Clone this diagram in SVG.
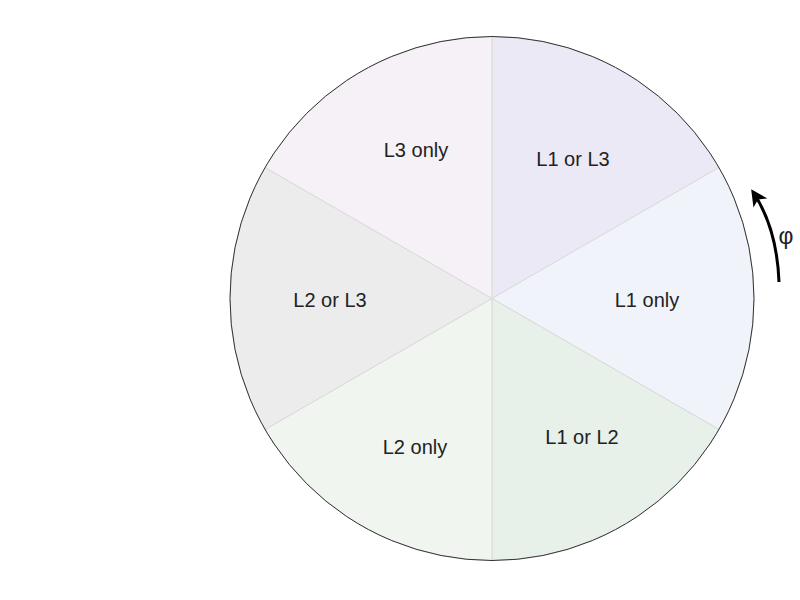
<svg xmlns="http://www.w3.org/2000/svg" width="800" height="600" viewBox="0 0 800 600">
<style>
.sec{stroke:#dadada;stroke-width:1}
.lbl{font-family:"Liberation Sans",Arial,sans-serif;font-size:20px;fill:#222;text-anchor:middle}
</style>
<defs>
<marker id="ah" viewBox="0 0 10 10" refX="8" refY="5" markerWidth="5.5" markerHeight="5.5" orient="auto" markerUnits="strokeWidth">
<path d="M0,0 L10,5 L0,10 L2.5,5 z" fill="#000"/>
</marker>
</defs>
<rect width="800" height="600" fill="#fff"/>
<g id="s-l1l3"><path class="sec" d="M492,298.5 L492,36.5 A262,262 0 0 1 718.9,167.5 Z" fill="#ebe9f5"/><text class="lbl" x="573" y="166">L1 or L3</text></g>
<g id="s-l1"><path class="sec" d="M492,298.5 L718.9,167.5 A262,262 0 0 1 718.9,429.5 Z" fill="#f0f4fa"/><text class="lbl" x="647" y="307">L1 only</text></g>
<g id="s-l1l2"><path class="sec" d="M492,298.5 L718.9,429.5 A262,262 0 0 1 492,560.5 Z" fill="#e8f0ea"/><text class="lbl" x="582" y="444">L1 or L2</text></g>
<g id="s-l2"><path class="sec" d="M492,298.5 L492,560.5 A262,262 0 0 1 265.1,429.5 Z" fill="#f0f5f0"/><text class="lbl" x="415" y="454">L2 only</text></g>
<g id="s-l2l3"><path class="sec" d="M492,298.5 L265.1,429.5 A262,262 0 0 1 265.1,167.5 Z" fill="#ececed"/><text class="lbl" x="330" y="307">L2 or L3</text></g>
<g id="s-l3"><path class="sec" d="M492,298.5 L265.1,167.5 A262,262 0 0 1 492,36.5 Z" fill="#f5f1f6"/><text class="lbl" x="416" y="157">L3 only</text></g>
<circle cx="492" cy="298.5" r="262" fill="none" stroke="#333" stroke-width="1"/>
<g id="connectors">
<path d="M779,282 Q777,228 753,192" fill="none" stroke="#000" stroke-width="3" marker-end="url(#ah)"/>
</g>
<text x="786" y="244" font-family="'Liberation Sans',Arial,sans-serif" font-size="23" fill="#222" text-anchor="middle">φ</text>
</svg>
